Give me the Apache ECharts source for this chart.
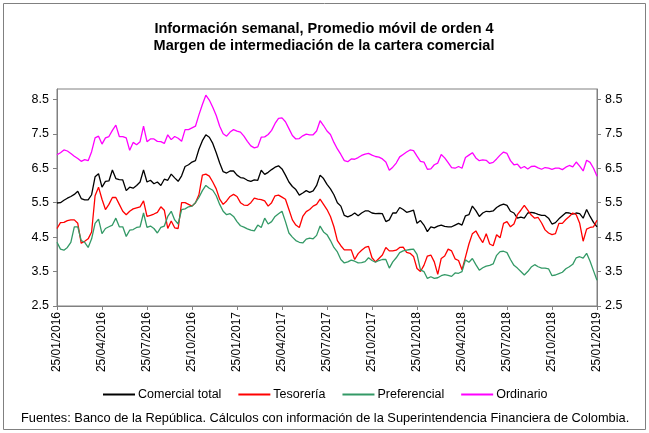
<!DOCTYPE html>
<html>
<head>
<meta charset="utf-8">
<script src="https://cdn.jsdelivr.net/npm/echarts@6/dist/echarts.min.js"></script>
<style>
  html, body { margin: 0; padding: 0; background: #fff; }
  #chart { width: 649px; height: 433px; }
</style>
</head>
<body>
<div id="chart"></div>
<script>
// weekly data, 25/01/2016 .. 25/01/2019 (157 weeks)
const tickLabels = ['25/01/2016', '25/04/2016', '25/07/2016', '25/10/2016', '25/01/2017', '25/04/2017',
  '25/07/2017', '25/10/2017', '25/01/2018', '25/04/2018', '25/07/2018', '25/10/2018', '25/01/2019'];

const comercialTotal = [
  5.49, 5.5, 5.57, 5.63, 5.68, 5.74, 5.83, 5.62, 5.58, 5.58, 5.73, 6.25, 6.34, 5.95, 6.12, 6.13, 6.45, 6.2, 6.17, 6.16,
  5.85, 5.95, 5.92, 6.0, 6.1, 6.45, 6.1, 6.15, 6.05, 6.1, 6.0, 6.18, 6.15, 6.33, 6.22, 6.12, 6.28, 6.55, 6.6, 6.68,
  6.72, 7.05, 7.3, 7.47, 7.4, 7.22, 6.95, 6.65, 6.4, 6.36, 6.42, 6.42, 6.3, 6.23, 6.21, 6.15, 6.12, 6.16, 6.15, 6.44,
  6.32, 6.38, 6.46, 6.53, 6.57, 6.48, 6.3, 6.1, 5.97, 5.88, 5.72, 5.78, 5.85, 5.8, 5.84, 6.0, 6.3, 6.2, 6.03, 5.9,
  5.73, 5.5, 5.4, 5.13, 5.09, 5.13, 5.2, 5.12, 5.2, 5.26, 5.26, 5.2, 5.18, 5.19, 5.18, 4.95, 5.0, 5.2, 5.2, 5.36,
  5.3, 5.22, 5.25, 5.28, 4.9, 4.98, 4.85, 4.66, 4.8, 4.77, 4.82, 4.85, 4.81, 4.8, 4.8, 4.85, 4.9, 4.85, 5.12, 5.15,
  5.4, 5.27, 5.1, 5.2, 5.25, 5.24, 5.26, 5.36, 5.42, 5.46, 5.42, 5.25, 5.2, 5.05, 5.08, 5.05, 5.2, 5.22, 5.2, 5.16,
  5.13, 5.13, 5.05, 4.88, 4.92, 5.03, 5.12, 5.21, 5.2, 5.17, 5.2, 5.18, 5.05, 5.3, 5.1, 4.93, 4.8
];

const tesoreria = [
  4.75, 4.92, 4.93, 4.98, 5.0, 5.0, 4.9, 4.32, 4.38, 4.45, 4.65, 5.7, 5.95, 5.6, 5.3, 5.45, 5.65, 5.65, 5.45, 5.25,
  5.15, 5.25, 5.32, 5.35, 5.38, 5.55, 5.1, 5.13, 5.17, 5.22, 5.38, 5.28, 4.75, 4.97, 4.77, 4.75, 5.5, 5.5, 5.45, 5.4,
  5.5, 5.73, 6.3, 6.33, 6.27, 6.1, 5.9, 5.6, 5.45, 5.55, 5.68, 5.74, 5.68, 5.5, 5.43, 5.42, 5.5, 5.63, 5.6, 5.59,
  5.55, 5.4, 5.5, 5.7, 5.72, 5.66, 5.6, 5.3, 5.0, 4.85, 4.78, 5.1, 5.24, 5.3, 5.4, 5.45, 5.6, 5.45, 5.3, 5.1,
  4.8, 4.4, 4.25, 4.13, 4.13, 4.13, 3.85, 4.02, 4.12, 4.2, 4.23, 3.9, 3.78, 3.88, 3.98, 4.2, 4.1, 4.1, 4.12, 4.2,
  4.21, 4.06, 4.03, 3.94, 3.59, 3.5, 3.68, 3.95, 3.98, 3.78, 3.42, 3.88, 3.95, 4.15, 4.1, 3.87, 3.82, 3.55, 3.92, 4.3,
  4.6, 4.68, 4.5, 4.34, 4.6, 4.3, 4.25, 4.57, 4.48, 4.9, 4.95, 4.8, 4.88, 5.15, 5.28, 5.42, 5.28, 5.14, 5.05, 5.07,
  4.91, 4.71, 4.62, 4.57, 4.6, 4.9, 4.9, 5.01, 5.1, 5.2, 5.15, 4.9, 4.38, 4.73, 4.78, 4.8, 4.99
];

const preferencial = [
  4.35, 4.15, 4.12, 4.2, 4.35, 4.8, 4.8, 4.4, 4.35, 4.2, 4.45, 4.9, 5.02, 4.6, 4.75, 4.8, 4.85, 5.05, 4.8, 4.8,
  4.52, 4.7, 4.72, 4.78, 4.8, 5.2, 4.78, 4.82, 4.75, 4.62, 4.78, 4.82, 5.1, 5.25, 5.0, 4.88, 5.3, 5.32, 5.38, 5.4,
  5.5, 5.65, 5.85, 6.0, 5.92, 5.86, 5.7, 5.45, 5.25, 5.15, 5.18, 5.1, 4.95, 4.83, 4.79, 4.74, 4.7, 4.68, 4.85, 4.78,
  5.05, 4.88, 4.95, 5.1, 5.18, 5.25, 4.95, 4.62, 4.5, 4.4, 4.35, 4.33, 4.44, 4.47, 4.45, 4.55, 4.82, 4.65, 4.57, 4.4,
  4.2, 4.07, 3.85, 3.75, 3.78, 3.83, 3.8, 3.75, 3.76, 3.79, 3.9, 3.82, 3.77, 3.82, 3.85, 3.85, 3.6, 3.78, 3.9, 4.05,
  4.1, 4.12, 4.14, 4.15, 4.0, 3.55, 3.5, 3.3, 3.35, 3.3, 3.32, 3.38, 3.41, 3.39, 3.36, 3.46, 3.45, 3.5, 3.84, 3.77,
  3.88, 3.7, 3.54, 3.61, 3.66, 3.68, 3.72, 3.97, 4.08, 4.09, 4.05, 3.85, 3.68, 3.6, 3.5, 3.4, 3.5, 3.63, 3.7, 3.64,
  3.6, 3.6, 3.58, 3.38, 3.4, 3.44, 3.48, 3.58, 3.64, 3.71, 3.9, 3.93, 3.89, 4.03, 3.8, 3.52, 3.25
];

const ordinario = [
  6.89, 6.95, 7.03, 7.0, 6.93, 6.85, 6.78, 6.7, 6.75, 6.72, 6.98, 7.38, 7.43, 7.2, 7.38, 7.42, 7.6, 7.75, 7.42, 7.42,
  7.38, 7.02, 7.25, 7.18, 7.27, 7.72, 7.27, 7.35, 7.35, 7.28, 7.27, 7.22, 7.47, 7.33, 7.42, 7.37, 7.28, 7.62, 7.62, 7.67,
  7.72, 8.05, 8.35, 8.62, 8.48, 8.27, 8.03, 7.72, 7.5, 7.43, 7.55, 7.62, 7.58, 7.55, 7.43, 7.28, 7.15, 7.09, 7.12, 7.4,
  7.41, 7.48, 7.6, 7.8, 7.95, 7.96, 7.85, 7.65, 7.45, 7.35, 7.36, 7.44, 7.49, 7.47, 7.47, 7.58, 7.88, 7.74, 7.58, 7.48,
  7.25, 7.06, 6.9, 6.72, 6.69, 6.77, 6.76, 6.81, 6.87, 6.91, 6.93, 6.88, 6.84, 6.82, 6.77, 6.68, 6.44, 6.53, 6.65, 6.83,
  6.9, 6.97, 7.03, 7.01, 6.85, 6.7, 6.68, 6.47, 6.48, 6.6, 6.65, 6.9, 6.8, 6.66, 6.52, 6.5, 6.55, 6.5, 6.81, 6.88,
  6.95, 6.8, 6.72, 6.74, 6.73, 6.64, 6.67, 6.77, 6.88, 6.97, 6.93, 6.72, 6.6, 6.62, 6.5, 6.55, 6.48, 6.55, 6.56, 6.51,
  6.47, 6.52, 6.5, 6.47, 6.5, 6.5, 6.46, 6.53, 6.58, 6.54, 6.68, 6.56, 6.42, 6.73, 6.67, 6.5, 6.27
];

// one category per week
const weeks = [];
const start = new Date(2016, 0, 25);
for (let i = 0; i < comercialTotal.length; i++) {
  const d = new Date(start.getTime() + i * 7 * 86400000);
  weeks.push(String(d.getDate()).padStart(2, '0') + '/' + String(d.getMonth() + 1).padStart(2, '0') + '/' + d.getFullYear());
}

const FONT = '"Liberation Sans", Arial, sans-serif';
const AXIS_COLOR = '#808080';

const chart = echarts.init(document.getElementById('chart'), null, { renderer: 'canvas' });

function yAxisDef(pos) {
  return {
    type: 'value',
    position: pos,
    min: 2.5,
    max: 8.8,
    interval: 1,
    axisLine: { show: true, lineStyle: { color: AXIS_COLOR, width: 1 } },
    axisTick: { show: true, length: 4, lineStyle: { color: AXIS_COLOR } },
    splitLine: { show: false },
    axisLabel: {
      showMaxLabel: false,
      margin: 8,
      color: '#000',
      fontFamily: FONT,
      fontSize: 12.5,
      formatter: v => v.toFixed(1)
    }
  };
}

function lineSeries(name, data, color) {
  return {
    name: name,
    type: 'line',
    data: data,
    symbol: 'none',
    lineStyle: { color: color, width: 1.3 },
    itemStyle: { color: color },
    animation: false
  };
}

const option = {
  animation: false,
  title: {
    text: 'Información semanal, Promedio móvil de orden 4\nMargen de intermediación de la cartera comercial',
    left: 319,
    top: 15,
    textAlign: 'center',
    textStyle: {
      fontFamily: FONT,
      fontSize: 14.5,
      fontWeight: 'bold',
      lineHeight: 17,
      color: '#000'
    }
  },
  grid: {
    left: 57,
    right: 52,
    top: 89,
    bottom: 127,
    show: true,
    borderColor: AXIS_COLOR,
    borderWidth: 1
  },
  legend: {
    top: 383,
    left: 98,
    itemWidth: 32,
    itemHeight: 2,
    itemGap: 17,
    icon: 'rect',
    textStyle: { fontFamily: FONT, fontSize: 12.5, color: '#000', padding: [0, 0, 0, -2] },
    data: ['Comercial total', 'Tesorería', 'Preferencial', 'Ordinario']
  },
  xAxis: {
    type: 'category',
    data: weeks,
    boundaryGap: false,
    axisLine: { show: true, lineStyle: { color: AXIS_COLOR, width: 1 } },
    axisTick: { show: true, interval: 12, length: 4, lineStyle: { color: AXIS_COLOR } },
    splitLine: { show: false },
    axisLabel: {
      interval: 12,
      rotate: 90,
      margin: 6,
      color: '#000',
      fontFamily: FONT,
      fontSize: 12,
      formatter: (v, i) => tickLabels[Math.round(i / 13)]
    }
  },
  yAxis: [yAxisDef('left'), yAxisDef('right')],
  series: [
    lineSeries('Comercial total', comercialTotal, '#000000'),
    lineSeries('Tesorería', tesoreria, '#FF0000'),
    lineSeries('Preferencial', preferencial, '#339966'),
    lineSeries('Ordinario', ordinario, '#FF00FF')
  ],
  graphic: [
    {
      type: 'rect',
      shape: { x: 3.5, y: 3.5, width: 642, height: 426 },
      style: { fill: 'none', stroke: '#808080', lineWidth: 1 },
      silent: true
    },
    {
      type: 'text',
      left: 21,
      top: 412,
      style: {
        text: 'Fuentes: Banco de la República. Cálculos con información de la Superintendencia Financiera de Colombia.',
        font: '12.8px "Liberation Sans", Arial, sans-serif',
        fill: '#000'
      }
    }
  ]
};

chart.setOption(option);
</script>
</body>
</html>
